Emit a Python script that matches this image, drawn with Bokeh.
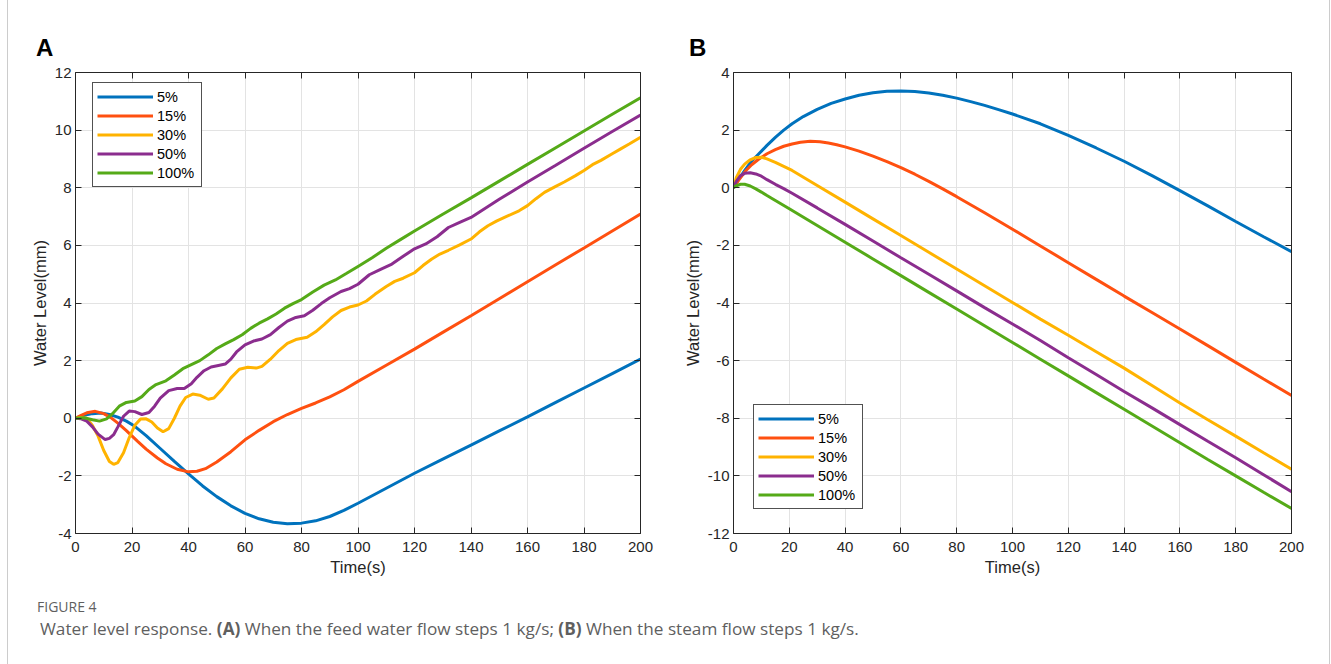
from bokeh.plotting import figure
from bokeh.models import (Range1d, LinearAxis, SingleIntervalTicker,
                          CustomJSTickFormatter, Div, Spacer)
from bokeh.layouts import row, column
from bokeh.embed import file_html
from bokeh.resources import INLINE

# ---------------- data ----------------
legend_labels = ["5%", "15%", "30%", "50%", "100%"]
colors = ["#0072BD", "#FF5010", "#FFB300", "#8B2D8E", "#55AA18"]
panel_tags = ["A", "B"]

# Panel A: feed water flow step
a_t_5 = [0, 3, 6, 9, 12, 15, 18, 21, 25, 30, 35, 40, 45, 50, 55, 60, 65, 70, 75, 80,
         85, 90, 95, 100, 110, 120, 130, 140, 150, 160, 170, 180, 190, 200]
a_v_5 = [0, 0.1, 0.16, 0.18, 0.13, 0.04, -0.1, -0.28, -0.6, -1.05, -1.5, -1.93, -2.35, -2.72,
         -3.04, -3.3, -3.49, -3.61, -3.66, -3.64, -3.56, -3.41, -3.2, -2.95, -2.43, -1.91,
         -1.42, -0.93, -0.44, 0.05, 0.55, 1.05, 1.55, 2.05]

a_t_15 = [0, 2, 4, 7, 10, 12.5, 15, 18, 22, 25, 29, 32, 36, 40, 43, 46, 50, 55, 60, 65,
          70, 75, 80, 85, 90, 95, 100, 110, 120, 130, 140, 150, 160, 170, 180, 190, 200]
a_v_15 = [0, 0.1, 0.19, 0.24, 0.16, 0.02, -0.17, -0.43, -0.8, -1.07, -1.38, -1.58, -1.77,
          -1.86, -1.84, -1.75, -1.52, -1.16, -0.75, -0.42, -0.12, 0.13, 0.34, 0.53, 0.74,
          0.99, 1.28, 1.84, 2.4, 2.98, 3.56, 4.15, 4.74, 5.33, 5.91, 6.5, 7.09]

a_t_30 = [0, 2, 4, 6, 8, 10, 12, 13.5, 15, 17, 19, 21, 23, 25, 27, 29, 31, 33, 35, 37,
          39, 41.5, 44, 47, 49, 52, 55, 58, 61, 64, 66, 69, 72, 75, 78, 82, 85, 88, 91, 94,
          97, 100, 103, 106, 110, 113, 116, 120, 123, 126, 129, 132, 136, 140, 143, 146,
          149, 153, 157, 160, 163, 166, 170, 173, 177, 180, 183, 186, 190, 193, 196, 200]
a_v_30 = [0, 0.03, 0, -0.25, -0.62, -1.12, -1.5, -1.6, -1.54, -1.2, -0.68, -0.24, -0.03,
          -0.02, -0.13, -0.34, -0.47, -0.36, 0.0, 0.42, 0.72, 0.84, 0.8, 0.66, 0.7, 1.02,
          1.4, 1.7, 1.77, 1.74, 1.8, 2.05, 2.35, 2.6, 2.73, 2.81, 3.0, 3.25, 3.52, 3.74,
          3.86, 3.93, 4.07, 4.3, 4.57, 4.75, 4.86, 5.05, 5.3, 5.52, 5.7, 5.83, 6.02, 6.22,
          6.47, 6.68, 6.84, 7.02, 7.2, 7.38, 7.62, 7.84, 8.05, 8.2, 8.42, 8.6, 8.8, 8.95,
          9.18, 9.35, 9.52, 9.75]

a_t_50 = [0, 2, 4, 6, 8, 10.5, 12, 13.5, 15, 17, 19, 21, 23.5, 26, 28, 30, 33, 36, 38.5, 41,
          43, 45.5, 48, 51, 53, 55, 57, 60, 63, 66, 69, 72, 75, 78, 81, 84, 87, 90, 94, 97,
          100, 104, 108, 112, 116, 120, 124, 128, 132, 136, 140, 150, 160, 170, 180, 190, 200]
a_v_50 = [0, -0.02, -0.1, -0.3, -0.55, -0.74, -0.7, -0.57, -0.3, 0.07, 0.25, 0.23, 0.13,
          0.2, 0.42, 0.7, 0.96, 1.03, 1.03, 1.2, 1.42, 1.65, 1.78, 1.84, 1.88, 2.05, 2.3,
          2.55, 2.68, 2.75, 2.9, 3.15, 3.37, 3.5, 3.56, 3.75, 3.98, 4.18, 4.4, 4.5, 4.65,
          4.98, 5.17, 5.35, 5.62, 5.88, 6.05, 6.3, 6.62, 6.8, 6.97, 7.6, 8.2, 8.78, 9.37,
          9.95, 10.52]

a_t_100 = [0, 3, 6, 8.5, 11, 13, 15.5, 18, 21, 23.5, 26, 28.5, 32, 35, 38, 41, 44, 47, 50,
           53, 56, 59, 62, 65, 68, 71, 74, 77, 80, 84, 88, 92, 96, 100, 105, 110, 115, 120,
           130, 140, 150, 160, 170, 180, 190, 200]
a_v_100 = [0, 0.02, -0.05, -0.1, -0.02, 0.15, 0.42, 0.55, 0.6, 0.75, 1.0, 1.17, 1.3, 1.5,
           1.72, 1.86, 2.0, 2.2, 2.42, 2.58, 2.73, 2.9, 3.12, 3.3, 3.45, 3.62, 3.82, 3.98,
           4.12, 4.38, 4.62, 4.8, 5.03, 5.27, 5.57, 5.9, 6.2, 6.5, 7.08, 7.65, 8.23, 8.81,
           9.39, 9.97, 10.55, 11.12]

# Panel B: steam flow step
b_t_5 = [0, 2, 4.3, 6.5, 9, 12, 15, 18, 21, 25, 30, 35, 40, 45, 50, 55, 60, 65, 70, 75,
         80, 85, 90, 95, 100, 110, 120, 130, 140, 150, 160, 170, 180, 190, 200]
b_v_5 = [0, 0.32, 0.64, 0.92, 1.17, 1.47, 1.75, 2.0, 2.22, 2.47, 2.72, 2.93, 3.08, 3.21,
         3.3, 3.35, 3.36, 3.34, 3.29, 3.21, 3.11, 2.99, 2.86, 2.71, 2.56, 2.22, 1.82, 1.38,
         0.92, 0.42, -0.1, -0.63, -1.17, -1.7, -2.22]

b_t_15 = [0, 2, 4.3, 6.5, 9, 12, 15, 18, 21, 24, 27.5, 31, 34, 37, 40, 45, 50, 55, 60, 65,
          70, 75, 80, 90, 100, 110, 120, 130, 140, 150, 160, 170, 180, 190, 200]
b_v_15 = [0, 0.28, 0.58, 0.8, 0.99, 1.18, 1.32, 1.44, 1.52, 1.58, 1.61, 1.6, 1.55, 1.49,
          1.42, 1.27, 1.1, 0.91, 0.7, 0.47, 0.22, -0.04, -0.31, -0.87, -1.44, -2.02, -2.6,
          -3.18, -3.76, -4.33, -4.9, -5.48, -6.06, -6.64, -7.21]

b_t_30 = [0, 1, 2.5, 4, 6, 8, 10, 12, 15, 18, 21, 30, 40, 50, 60, 70, 80, 90, 100, 110,
          120, 130, 140, 150, 160, 170, 180, 190, 200]
b_v_30 = [0, 0.35, 0.64, 0.82, 0.97, 1.05, 1.06, 1.0, 0.88, 0.74, 0.6, 0.08, -0.5, -1.08,
          -1.66, -2.24, -2.82, -3.4, -3.98, -4.56, -5.12, -5.69, -6.26, -6.86, -7.47,
          -8.05, -8.62, -9.2, -9.77]

b_t_50 = [0, 1, 2.5, 4, 6, 8, 10, 12, 15, 18, 21, 30, 40, 50, 60, 70, 80, 90, 100, 110,
          120, 130, 140, 150, 160, 170, 180, 190, 200]
b_v_50 = [0, 0.22, 0.42, 0.5, 0.52, 0.48, 0.4, 0.28, 0.12, -0.03, -0.19, -0.7, -1.27,
          -1.85, -2.43, -3.0, -3.58, -4.16, -4.73, -5.3, -5.9, -6.48, -7.07, -7.64, -8.22,
          -8.8, -9.37, -9.96, -10.55]

b_t_100 = [0, 1, 2.5, 4, 6, 8, 10, 12, 15, 20, 30, 40, 50, 60, 70, 80, 90, 100, 110, 120,
           130, 140, 150, 160, 170, 180, 190, 200]
b_v_100 = [0, 0.07, 0.12, 0.12, 0.06, -0.04, -0.15, -0.27, -0.44, -0.73, -1.31, -1.89,
           -2.47, -3.05, -3.63, -4.21, -4.79, -5.37, -5.95, -6.53, -7.11, -7.69, -8.27,
           -8.85, -9.43, -10.0, -10.57, -11.13]

x_range_vals = (0, 200)
a_y_range = (-4, 12)
b_y_range = (-12, 4)

caption_head = "FIGURE 4"
caption_text = ("Water level response. <b>(A)</b> When the feed water flow steps 1 kg/s; "
                "<b>(B)</b> When the steam flow steps 1 kg/s.")

# ---------------- styling ----------------
FONT = "Liberation Sans"
TXT = "#262626"
HEADER_H = 56


def style_axis(ax, labelled):
    ax.axis_line_color = TXT
    ax.axis_line_width = 1
    ax.major_tick_line_color = TXT
    ax.major_tick_in = 6
    ax.major_tick_out = 0
    ax.minor_tick_line_color = None
    ax.major_label_text_font = FONT
    ax.major_label_text_color = TXT
    if labelled:
        ax.major_label_text_font_size = "15px"
        ax.formatter = CustomJSTickFormatter(code="return tick.toFixed(0)")
    else:
        ax.major_label_text_font_size = "1px"
        ax.major_label_standoff = 0
        ax.formatter = CustomJSTickFormatter(code="return ''")


def make_panel(width, left, right, yr, series, legend_loc):
    p = figure(width=width, height=590 - HEADER_H, x_range=Range1d(*x_range_vals),
               y_range=Range1d(*yr), output_backend="svg", toolbar_location=None,
               min_border_left=left, min_border_right=right,
               min_border_top=72 - HEADER_H, min_border_bottom=57)
    p.outline_line_color = None
    p.background_fill_color = "white"
    p.border_fill_color = "white"

    for (t, v), lab, c in zip(series, legend_labels, colors):
        p.line(t, v, line_color=c, line_width=3, legend_label=lab)

    xt = SingleIntervalTicker(interval=20, num_minor_ticks=0)
    yt = SingleIntervalTicker(interval=2, num_minor_ticks=0)
    xa = p.below[0]
    ya = p.left[0]
    xa.ticker = xt
    ya.ticker = yt
    style_axis(xa, True)
    style_axis(ya, True)
    xa.major_label_standoff = 8
    ya.major_label_standoff = 4
    xa.axis_label = "Time(s)"
    ya.axis_label = "Water Level(mm)"
    for ax in (xa, ya):
        ax.axis_label_text_font = FONT
        ax.axis_label_text_font_size = "16.5px"
        ax.axis_label_text_font_style = "normal"
        ax.axis_label_text_color = TXT
    xa.axis_label_standoff = 3
    ya.axis_label_standoff = 3

    top = LinearAxis(ticker=xt)
    rgt = LinearAxis(ticker=yt)
    style_axis(top, False)
    style_axis(rgt, False)
    p.add_layout(top, "above")
    p.add_layout(rgt, "right")

    p.xgrid.grid_line_color = "#e3e3e3"
    p.ygrid.grid_line_color = "#e3e3e3"
    p.xgrid.grid_line_width = 1
    p.ygrid.grid_line_width = 1

    leg = p.legend[0]
    leg.location = legend_loc
    leg.glyph_width = 56
    leg.glyph_height = 19
    leg.label_height = 19
    leg.label_width = 40
    leg.label_standoff = 4
    leg.spacing = 0
    leg.padding = 4
    leg.margin = 0
    leg.label_text_font = FONT
    leg.label_text_font_size = "14.5px"
    leg.label_text_color = "#000000"
    leg.border_line_color = "#262626"
    leg.border_line_width = 1
    leg.border_line_alpha = 0.8
    leg.background_fill_color = "white"
    leg.background_fill_alpha = 1
    return p


def header(tag, width, left):
    return Div(width=width, height=HEADER_H, margin=0, text=(
        f'<div style="position:relative;width:{width}px;height:{HEADER_H}px;">'
        f'<div style="position:absolute;left:{left}px;top:36px;font-family:\'Liberation Sans\';'
        f'font-weight:bold;font-size:24px;line-height:24px;color:#000;">{tag}</div></div>'))


pA = make_panel(672, 67, 40, a_y_range,
                [(a_t_5, a_v_5), (a_t_15, a_v_15), (a_t_30, a_v_30),
                 (a_t_50, a_v_50), (a_t_100, a_v_100)],
                (17, 346))
pB = make_panel(649, 53, 38, b_y_range,
                [(b_t_5, b_v_5), (b_t_15, b_v_15), (b_t_30, b_v_30),
                 (b_t_50, b_v_50), (b_t_100, b_v_100)],
                (20, 24))

colA = column(header(panel_tags[0], 672, 28), pA, spacing=0)
colB = column(header(panel_tags[1], 649, 9), pB, spacing=0)

cap = Div(width=1321, height=74, margin=0, text=f"""
<div style="position:relative;width:1321px;height:74px;font-family:'Open Sans',sans-serif;color:#5f5f5f;">
  <div style="position:absolute;left:29px;top:8px;font-size:14px;line-height:18px;">{caption_head}</div>
  <div style="position:absolute;left:32px;top:28px;font-size:17.2px;line-height:22px;white-space:nowrap;">{caption_text}</div>
</div>""")

border_l = Div(width=1, height=664, margin=0, text="",
               styles={"background-color": "#cccccc"})
border_r = Div(width=1, height=664, margin=0, text="",
               styles={"background-color": "#cccccc"})

layout = row(Spacer(width=7, height=664, margin=0), border_l,
             column(row(colA, colB, spacing=0), cap, spacing=0), border_r, spacing=0)

open("out.html", "w").write(file_html(layout, INLINE))
